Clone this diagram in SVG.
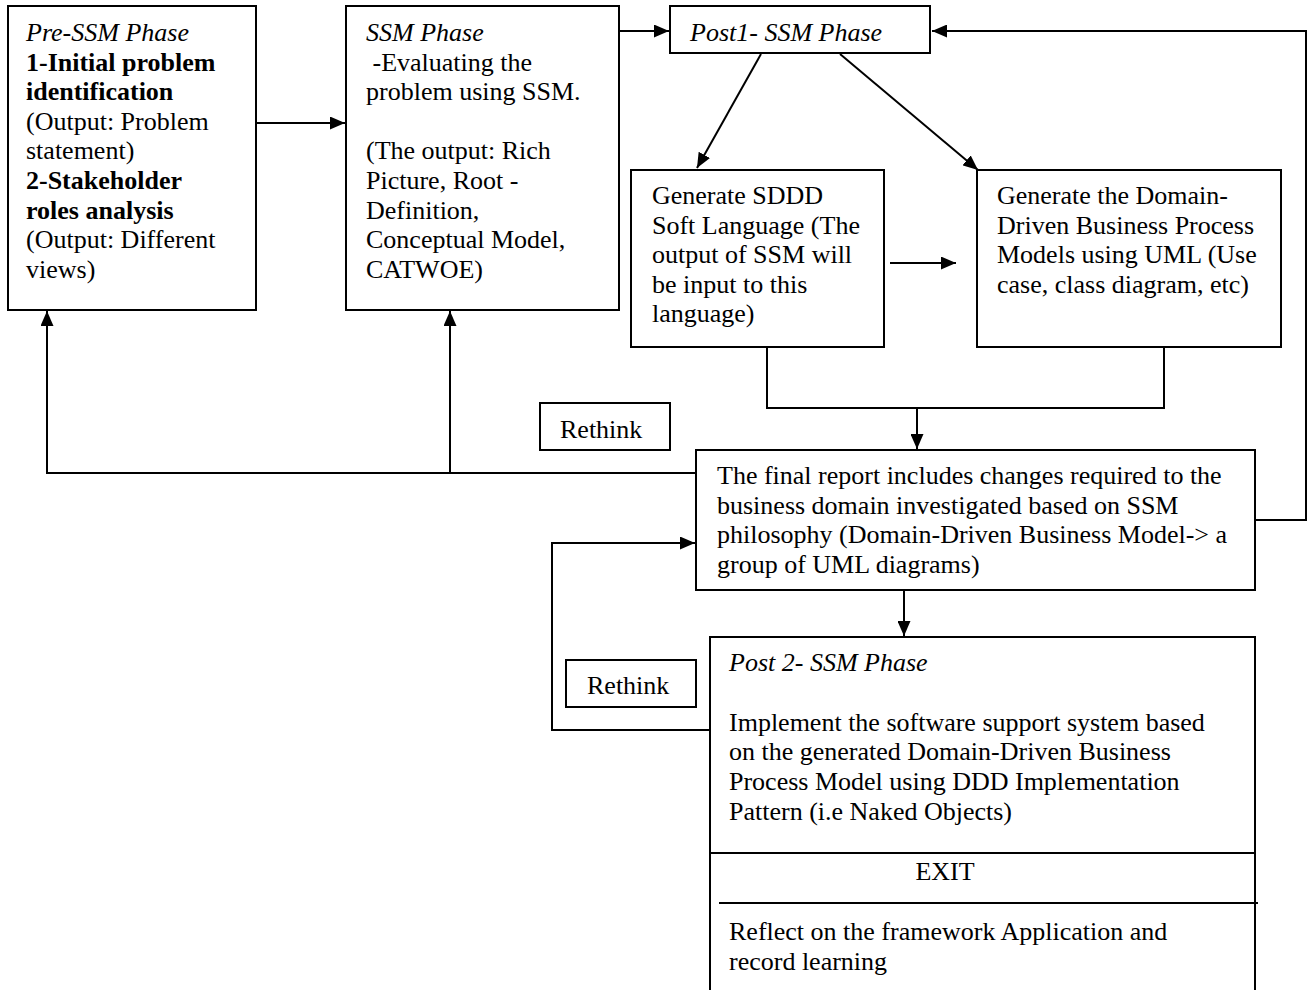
<svg xmlns="http://www.w3.org/2000/svg" width="1309" height="990" viewBox="0 0 1309 990">
<style>
.box{fill:#fff;stroke:#000;stroke-width:2}
.ln{fill:none;stroke:#000;stroke-width:2}
text{font-family:"Liberation Serif","Times New Roman",serif;font-size:26px;fill:#000}
.it{font-style:italic}
.b{font-weight:bold}
</style>
<defs>
<marker id="ah" viewBox="0 0 15 13" refX="15" refY="6.5" markerWidth="15" markerHeight="13" markerUnits="userSpaceOnUse" orient="auto">
<path d="M0,0 L15,6.5 L0,13 z" fill="#000"/>
</marker>
</defs>
<rect width="1309" height="990" fill="#fff"/>
<g id="connectors">
<line class="ln" x1="256" y1="123" x2="345" y2="123" marker-end="url(#ah)"/>
<line class="ln" x1="619" y1="31" x2="669" y2="31" marker-end="url(#ah)"/>
<polyline class="ln" points="1255,520 1306,520 1306,31 932,31" marker-end="url(#ah)"/>
<line class="ln" x1="761" y1="54" x2="697" y2="168" marker-end="url(#ah)"/>
<line class="ln" x1="840" y1="54" x2="978" y2="170" marker-end="url(#ah)"/>
<line class="ln" x1="890" y1="263" x2="956" y2="263" marker-end="url(#ah)"/>
<polyline class="ln" points="767,347 767,408 1164,408 1164,347"/>
<line class="ln" x1="917" y1="408" x2="917" y2="449" marker-end="url(#ah)"/>
<polyline class="ln" points="696,473 47,473 47,311" marker-end="url(#ah)"/>
<line class="ln" x1="450" y1="473" x2="450" y2="311" marker-end="url(#ah)"/>
<line class="ln" x1="904" y1="591" x2="904" y2="636" marker-end="url(#ah)"/>
<polyline class="ln" points="709,730 552,730 552,543 695,543" marker-end="url(#ah)"/>
</g>
<g id="pre-ssm">
<rect class="box" x="8" y="6" width="248" height="304"/>
<text x="26" y="41" class="it">Pre-SSM Phase</text>
<text x="26" y="71" class="b">1-Initial problem</text>
<text x="26" y="100" class="b">identification</text>
<text x="26" y="130">(Output: Problem</text>
<text x="26" y="159">statement)</text>
<text x="26" y="189" class="b">2-Stakeholder</text>
<text x="26" y="219" class="b">roles analysis</text>
<text x="26" y="248">(Output: Different</text>
<text x="26" y="278">views)</text>
</g>
<g id="ssm">
<rect class="box" x="346" y="6" width="273" height="304"/>
<text x="366" y="41" class="it">SSM Phase</text>
<text x="366" y="71" xml:space="preserve"> -Evaluating the</text>
<text x="366" y="100">problem using SSM.</text>
<text x="366" y="159">(The output: Rich</text>
<text x="366" y="189">Picture, Root -</text>
<text x="366" y="219">Definition,</text>
<text x="366" y="248">Conceptual Model,</text>
<text x="366" y="278">CATWOE)</text>
</g>
<g id="post1">
<rect class="box" x="670" y="6" width="260" height="47"/>
<text x="690" y="41" class="it">Post1- SSM Phase</text>
</g>
<g id="sddd">
<rect class="box" x="631" y="170" width="253" height="177"/>
<text x="652" y="204">Generate SDDD</text>
<text x="652" y="234">Soft Language (The</text>
<text x="652" y="263">output of SSM will</text>
<text x="652" y="293">be input to this</text>
<text x="652" y="322">language)</text>
</g>
<g id="domain">
<rect class="box" x="977" y="170" width="304" height="177"/>
<text x="997" y="204">Generate the Domain-</text>
<text x="997" y="234">Driven Business Process</text>
<text x="997" y="263">Models using UML (Use</text>
<text x="997" y="293">case, class diagram, etc)</text>
</g>
<g id="rethink1">
<rect class="box" x="540" y="403" width="130" height="47"/>
<text x="560" y="438">Rethink</text>
</g>
<g id="final-report">
<rect class="box" x="696" y="450" width="559" height="140"/>
<text x="717" y="484">The final report includes changes required to the</text>
<text x="717" y="514">business domain investigated based on SSM</text>
<text x="717" y="543">philosophy (Domain-Driven Business Model-&gt; a</text>
<text x="717" y="573">group of UML diagrams)</text>
</g>
<g id="rethink2">
<rect class="box" x="566" y="660" width="130" height="47"/>
<text x="587" y="694">Rethink</text>
</g>
<g id="post2">
<path class="ln" d="M710,995 L710,637 L1255,637 L1255,995"/>
<line class="ln" x1="710" y1="853" x2="1255" y2="853"/>
<line class="ln" x1="719" y1="903" x2="1258" y2="903"/>
<text x="729" y="671" class="it">Post 2- SSM Phase</text>
<text x="729" y="731">Implement the software support system based</text>
<text x="729" y="760">on the generated Domain-Driven Business</text>
<text x="729" y="790">Process Model using DDD Implementation</text>
<text x="729" y="820">Pattern (i.e Naked Objects)</text>
<text x="945" y="880" text-anchor="middle">EXIT</text>
<text x="729" y="940">Reflect on the framework Application and</text>
<text x="729" y="970">record learning</text>
</g>
</svg>
